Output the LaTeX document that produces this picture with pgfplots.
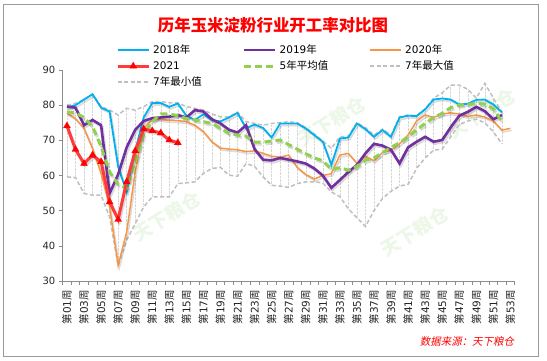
\documentclass[border=0pt]{standalone}
\usepackage{pgfplots}
\pgfplotsset{compat=1.18}
\usepackage{pgfplotstable}
\usepackage{fontspec}
\setmainfont{DejaVu Sans}
\newfontfamily\cjk{Noto Sans CJK SC}
\newfontfamily\cjkit[FakeSlant=0.2]{Noto Sans CJK SC}

\definecolor{c18}{HTML}{00B0F0}
\definecolor{c19}{HTML}{7030A0}
\definecolor{c20}{HTML}{F79646}
\definecolor{c21}{HTML}{FF3B3B}
\definecolor{cavg}{HTML}{92D050}
\definecolor{cgray}{HTML}{BFBFBF}
\definecolor{cwm}{HTML}{6DBE45}

\newcommand\wk[1]{{\cjk 第}#1{\cjk 周}}

\pgfplotstableread{
w y18 y19 y20 y21 avg max min
1 79.4 79.6 77.7 74.1 78.1 80.0 59.6
2 80.0 79.3 76.2 67.4 77.8 80.5 59.4
3 81.6 74.3 73.4 63.4 76.5 81.6 54.9
4 83.1 75.8 67.7 65.8 73.9 83.1 54.4
5 79.3 74.3 60.6 63.9 68.2 79.6 54.4
6 78.2 54.9 51.1 52.5 61.0 78.6 48.2
7 62.5 60.3 34.4 47.5 57.5 77.2 34.4
8 55.3 68.0 43.9 58.2 56.3 79.1 41.6
9 67.0 73.0 61.0 67.0 64.0 78.6 46.3
10 76.5 75.5 73.4 73.2 71.8 79.6 51.1
11 80.6 76.3 75.9 72.7 75.3 81.0 53.9
12 80.6 76.5 75.9 72.1 77.5 81.0 53.9
13 79.5 76.7 75.7 70.1 77.5 80.7 53.9
14 80.5 77.2 75.6 69.3 77.0 80.6 57.7
15 77.0 76.5 75.3 nan 76.2 79.6 57.9
16 75.8 78.6 74.3 nan 75.8 79.1 58.2
17 77.4 78.2 72.5 nan 75.3 78.6 60.6
18 75.7 76.0 69.6 nan 74.8 77.5 62.0
19 75.4 74.8 67.8 nan 73.4 76.7 62.3
20 76.5 73.0 67.5 nan 72.0 76.7 60.1
21 77.8 72.2 67.3 nan 71.5 78.0 59.8
22 73.4 74.3 66.8 nan 71.2 75.3 63.4
23 74.5 67.5 67.0 nan 69.5 74.8 62.6
24 73.5 64.5 66.3 nan 69.5 74.3 59.6
25 70.8 64.3 65.5 nan 69.8 74.8 57.2
26 74.8 65.0 65.2 nan 70.1 75.0 57.0
27 74.8 64.5 65.8 nan 68.8 75.3 56.6
28 74.8 64.0 62.3 nan 67.5 75.0 57.7
29 73.4 63.4 60.3 nan 66.2 73.6 58.2
30 71.5 62.0 59.0 nan 65.0 71.8 58.2
31 69.6 60.0 60.0 nan 64.2 69.8 57.9
32 63.0 56.5 60.5 nan 61.8 67.7 55.3
33 70.5 58.7 65.8 nan 62.2 71.0 54.0
34 70.8 61.0 66.3 nan 61.5 71.2 50.5
35 74.8 63.0 63.5 nan 62.6 75.0 48.0
36 73.2 66.3 65.5 nan 64.4 73.6 45.5
37 71.0 69.0 64.2 nan 65.0 71.5 50.0
38 72.9 68.5 66.5 nan 66.5 73.2 53.5
39 71.0 67.3 67.2 nan 68.0 71.5 55.5
40 76.5 63.4 69.0 nan 69.3 76.7 57.0
41 77.0 68.0 71.5 nan 71.0 77.2 57.5
42 76.9 69.6 75.5 nan 73.0 77.0 62.0
43 78.8 71.0 77.2 nan 74.8 79.0 65.0
44 81.6 69.6 76.5 nan 76.5 82.0 67.2
45 81.9 70.1 77.5 nan 77.7 83.5 67.5
46 81.6 73.7 77.8 nan 79.3 85.7 71.0
47 80.2 77.0 77.5 nan 80.0 85.7 74.5
48 80.4 78.1 76.8 nan 80.2 84.5 75.5
49 81.5 79.5 77.2 nan 80.5 82.0 76.0
50 81.6 78.3 76.6 nan 80.3 86.2 75.0
51 80.2 76.0 75.5 nan 79.0 82.0 72.4
52 78.0 77.2 72.9 nan 75.3 78.0 69.0
53 nan nan 73.4 nan nan nan nan
}\data

\tikzset{shadowed/.style={preaction={draw=black, draw opacity=0.14, transform canvas={xshift=1.3bp, yshift=-2bp}}}}

\begin{document}
\begin{tikzpicture}
\useasboundingbox (0,0) rectangle (547bp,361bp);
\fill[white] (0,0) rectangle (547bp,361bp);
\draw[color=black!40, line width=0.8bp] (3.5bp,5bp) rectangle (538bp,357bp);
\node[text=red, font=\cjk\bfseries\fontsize{16.5}{18}\selectfont] at (273bp,336bp) {历年玉米淀粉行业开工率对比图};
% faint watermarks
\foreach \px/\py in {167/145, 332/240, 415/130, 482/248}{
  \node[rotate=32, text=cwm, opacity=0.12, font=\cjk\bfseries\fontsize{19}{20}\selectfont, inner sep=0pt] at (\px bp,\py bp) {天下粮仓};
}
\begin{axis}[
  at={(62.7bp,80bp)}, anchor=south west,
  scale only axis, width=452bp, height=211bp,
  xmin=0.5, xmax=53.5, ymin=30, ymax=90,
  axis x line*=bottom, axis y line*=left,
  axis line style={black!45, line width=0.8bp},
  tick align=outside, major tick length=4bp,
  tick style={black!45, line width=0.6bp},
  /pgf/number format/assume math mode=true,
  ytick={30,40,...,90},
  yticklabel style={font=\fontsize{10}{12}\selectfont, text=black!85},
  xtick={0.5,1.5,...,53.5}, xticklabels={},
  extra x ticks={1,3,...,53},
  extra x tick labels={\wk{01},\wk{03},\wk{05},\wk{07},\wk{09},\wk{11},\wk{13},\wk{15},\wk{17},\wk{19},\wk{21},\wk{23},\wk{25},\wk{27},\wk{29},\wk{31},\wk{33},\wk{35},\wk{37},\wk{39},\wk{41},\wk{43},\wk{45},\wk{47},\wk{49},\wk{51},\wk{53}},
  extra x tick style={major tick length=0pt},
  xticklabel style={rotate=90, anchor=east, font=\fontsize{10.5}{12}\selectfont, text=black!85, inner sep=1bp},
  xticklabel shift=8bp,
  clip=false,
  legend columns=3,
  legend cell align=left,
  legend image code/.code={\draw[mark repeat=2,mark phase=2,#1] plot coordinates {(0bp,0bp) (15.5bp,0bp) (31bp,0bp)};},
  legend style={at={(0.118,1.133)}, anchor=north west, draw=none, fill=none, inner sep=0pt,
    row sep=0pt,
    nodes={font=\fontsize{10.5}{12}\selectfont, inner sep=2bp, text height=9bp, text depth=3bp},
    /tikz/every odd column/.append style={column sep=1bp},
    /tikz/every even column/.append style={column sep=39bp}},
]
% legend entries
\addlegendimage{c18, line width=2bp}
\addlegendentry{2018{\cjk 年}}
\addlegendimage{c19, line width=2bp}
\addlegendentry{2019{\cjk 年}}
\addlegendimage{c20, line width=2bp}
\addlegendentry{2020{\cjk 年}}
\addlegendimage{c21, line width=3bp, mark=triangle*, mark size=4bp, mark options={fill=red, draw=red, line width=0.3bp}}
\addlegendentry{2021}
\addlegendimage{cavg, line width=3bp, dash pattern=on 7bp off 4bp}
\addlegendentry{5{\cjk 年平均值}}
\addlegendimage{cgray, line width=1.5bp, dash pattern=on 4bp off 2.5bp}
\addlegendentry{7{\cjk 年最大值}}
\addlegendimage{cgray, line width=1.5bp, dash pattern=on 4bp off 2.5bp}
\addlegendentry{7{\cjk 年最小值}}

% high-low lines
\addplot[forget plot, draw=none, mark=none,
  error bars/.cd, y dir=minus, y explicit, error mark=none,
  error bar style={black!16, densely dotted, line width=0.5bp}]
  table[x=w, y=max, y error minus expr=\thisrow{max}-\thisrow{min}] {\data};
% 7-year max / min
\addplot[forget plot, cgray, line width=1.5bp, dash pattern=on 4bp off 2.5bp, mark=none] table[x=w, y=max] {\data};
\addplot[forget plot, cgray, line width=1.5bp, dash pattern=on 4bp off 2.5bp, mark=none] table[x=w, y=min] {\data};
% years
\addplot[forget plot, c20, line width=1.5bp, mark=none, shadowed] table[x=w, y=y20] {\data};
\addplot[forget plot, c18, line width=1.8bp, mark=none, shadowed] table[x=w, y=y18] {\data};
\addplot[forget plot, c19, line width=2.6bp, mark=none, shadowed] table[x=w, y=y19] {\data};
\addplot[forget plot, cavg, line width=3bp, dash pattern=on 7bp off 4bp, mark=none, shadowed] table[x=w, y=avg] {\data};
\addplot[forget plot, c21, line width=3bp, mark=triangle*, mark size=4bp, mark options={fill=red, draw=red, line width=0.3bp, solid}, shadowed] table[x=w, y=y21] {\data};
\end{axis}
\node[text=red, font=\cjkit\fontsize{10.5}{12}\selectfont] at (467bp,19bp) {数据来源：天下粮仓};
\end{tikzpicture}
\end{document}
